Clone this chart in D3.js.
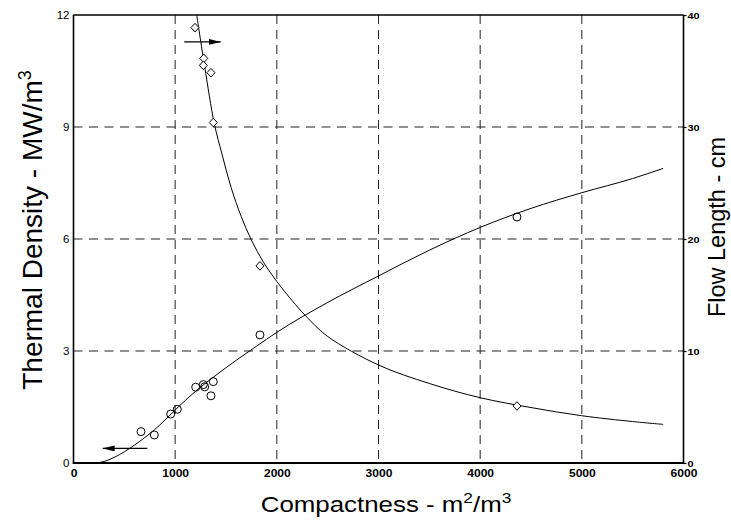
<!DOCTYPE html>
<html>
<head>
<meta charset="utf-8">
<script src="https://cdn.jsdelivr.net/npm/d3@7/dist/d3.min.js"></script>
<style>
  body { margin: 0; background: #fff; }
  text { font-family: "Liberation Sans", Arial, sans-serif; fill: #000; }
</style>
</head>
<body>
<svg class="chart"></svg>
<script>
// measured points
let circleX = [664, 795, 956, 1021, 1202, 1277, 1290, 1352, 1375, 1834, 4362]
let circleY = [0.84, 0.75, 1.31, 1.44, 2.03, 2.10, 2.04, 1.80, 2.18, 3.43, 6.59]

let diamondX = [1195, 1281, 1277, 1352, 1375, 1834, 4362]
let diamondY = [38.87, 36.13, 35.5, 34.85, 30.4, 17.6, 5.09]

// fitted curves
let thermalFitX = [0, 200, 300, 400, 500, 600, 700, 800, 900, 1000, 1200, 1400, 1600, 1800, 2000, 2500, 3000, 3500, 4000, 4500, 5000, 5500, 5800]
let thermalFitY = [0, 0, 0.04, 0.15, 0.3, 0.48, 0.68, 0.9, 1.15, 1.42, 1.92, 2.35, 2.75, 3.13, 3.5, 4.3, 5.01, 5.70, 6.31, 6.82, 7.24, 7.62, 7.89]

let flowFitX = [1212, 1290, 1385, 1460, 1550, 1650, 1750, 1870, 2000, 2150, 2277, 2500, 3000, 3500, 4000, 4500, 5000, 5500, 5800]
let flowFitY = [40, 35.4, 30.3, 27.6, 24.6, 22.0, 19.9, 17.9, 16.2, 14.5, 13.2, 11.3, 8.75, 7.1, 5.83, 4.95, 4.22, 3.7, 3.45]

let xTicks = [0, 1000, 2000, 3000, 4000, 5000, 6000]
let leftTicks = [0, 3, 6, 9, 12]
let rightTicks = [0, 10, 20, 30, 40]

// arrows (data coords): thermal -> left axis, flow -> right axis
let arrowLeft = [[726, 0.39], [287, 0.39]]
let arrowRight = [[1089, 37.6], [1448, 37.6]]

//basic graph info
let svg_width = 731;
let svg_height = 520;
let margin_left = 73.5;
let margin_top = 15;
let chart_width = 610;
let chart_height = 448;
let stretch = 1.15;

let svg = d3.select('.chart')
  .attr('width', svg_width)
  .attr('height', svg_height)

let scaleX = d3.scaleLinear().domain([0, 6000]).range([0, chart_width]);
let scaleY = d3.scaleLinear().domain([0, 12]).range([chart_height, 0]);
let scaleY2 = d3.scaleLinear().domain([0, 40]).range([chart_height, 0]);

let defs = svg.append('defs');
defs.append('marker')
  .attr('id', 'head')
  .attr('markerUnits', 'userSpaceOnUse')
  .attr('markerWidth', 12)
  .attr('markerHeight', 6)
  .attr('refX', 12)
  .attr('refY', 3)
  .attr('orient', 'auto')
  .append('path')
  .attr('d', 'M0,0 L12,3 L0,6 Z')
  .attr('fill', '#000');

let g = svg.append('g')
  .attr('transform', translate(margin_left, margin_top));

// grid
g.selectAll('.vgrid')
  .data(xTicks.slice(1, -1))
  .enter()
  .append('line')
  .attr('class', 'vgrid')
  .attr('x1', d => scaleX(d))
  .attr('x2', d => scaleX(d))
  .attr('y1', 0)
  .attr('y2', chart_height)
  .attr('stroke', '#222')
  .attr('stroke-width', 1)
  .attr('stroke-dasharray', '9,6');

g.selectAll('.hgrid')
  .data(leftTicks.slice(1, -1))
  .enter()
  .append('line')
  .attr('class', 'hgrid')
  .attr('x1', 0)
  .attr('x2', chart_width)
  .attr('y1', d => scaleY(d))
  .attr('y2', d => scaleY(d))
  .attr('stroke', '#222')
  .attr('stroke-width', 1)
  .attr('stroke-dasharray', '9,6.5');

// axes
let axisX = d3.axisBottom(scaleX).tickValues(xTicks).tickFormat(d3.format('d')).tickSize(0).tickPadding(7);
let axisY = d3.axisLeft(scaleY).tickValues(leftTicks).tickFormat(d3.format('d')).tickSize(0).tickPadding(4);
let axisY2 = d3.axisRight(scaleY2).tickValues(rightTicks).tickFormat(d3.format('d')).tickSize(3).tickPadding(1);

g.append('g')
  .attr('transform', translate(0, chart_height))
  .attr('class', 'x-axis')
  .call(axisX)
  .call(a => a.select('.domain').remove())
  .selectAll('text')
  .attr('font-size', 10.5)
  .attr('font-weight', 'bold')
  .attr('font-family', '"Liberation Sans", Arial, sans-serif')
  .attr('transform', 'scale(' + stretch + ',1)');

g.append('g')
  .attr('class', 'y-axis')
  .call(axisY)
  .call(a => a.select('.domain').remove())
  .selectAll('text')
  .attr('font-size', 10)
  .attr('font-family', '"Liberation Sans", Arial, sans-serif')
  .attr('x', -4 / stretch)
  .attr('transform', 'scale(' + stretch + ',1)');

let right = g.append('g')
  .attr('transform', translate(chart_width, 0))
  .attr('class', 'y-axis-2')
  .call(axisY2);
right.select('.domain').remove();
right.selectAll('.tick line').attr('stroke', '#000').attr('stroke-width', 1.2);
right.selectAll('text')
  .attr('font-size', 9.5)
  .attr('font-weight', 'bold')
  .attr('font-family', '"Liberation Sans", Arial, sans-serif')
  .attr('x', 4 / stretch)
  .attr('transform', 'scale(' + stretch + ',1)');

// frame
g.append('line').attr('x1', 0).attr('x2', chart_width).attr('y1', 0).attr('y2', 0)
  .attr('stroke', '#000').attr('stroke-width', 1.5);
g.append('line').attr('x1', 0).attr('x2', 0).attr('y1', 0).attr('y2', chart_height)
  .attr('stroke', '#000').attr('stroke-width', 1.6);
g.append('line').attr('x1', chart_width).attr('x2', chart_width).attr('y1', 0).attr('y2', chart_height)
  .attr('stroke', '#000').attr('stroke-width', 1.6);
g.append('line').attr('x1', -0.8).attr('x2', chart_width + 0.8).attr('y1', chart_height).attr('y2', chart_height)
  .attr('stroke', '#000').attr('stroke-width', 2);

// curves
let thermalLine = d3.line()
  .x(d => scaleX(d[0]))
  .y(d => scaleY(d[1]))
  .curve(d3.curveMonotoneX);

let flowLine = d3.line()
  .x(d => scaleX(d[0]))
  .y(d => scaleY2(d[1]))
  .curve(d3.curveCatmullRom.alpha(0.5));

g.append('path')
  .datum(d3.zip(thermalFitX, thermalFitY))
  .attr('d', thermalLine)
  .attr('fill', 'none')
  .attr('stroke', '#000')
  .attr('stroke-width', 1);

g.append('path')
  .datum(d3.zip(flowFitX, flowFitY))
  .attr('d', flowLine)
  .attr('fill', 'none')
  .attr('stroke', '#000')
  .attr('stroke-width', 1);

// markers
g.selectAll('.circle')
  .data(d3.zip(circleX, circleY))
  .enter()
  .append('circle')
  .attr('class', 'circle')
  .attr('cx', d => scaleX(d[0]))
  .attr('cy', d => scaleY(d[1]))
  .attr('r', 4)
  .attr('fill', 'none')
  .attr('stroke', '#000')
  .attr('stroke-width', 1);

g.selectAll('.diamond')
  .data(d3.zip(diamondX, diamondY))
  .enter()
  .append('path')
  .attr('class', 'diamond')
  .attr('transform', d => translate(scaleX(d[0]), scaleY2(d[1])))
  .attr('d', 'M0,-4.3 L4,0 L0,4.3 L-4,0 Z')
  .attr('fill', '#fff')
  .attr('stroke', '#000')
  .attr('stroke-width', 1);

// arrows
g.append('line')
  .attr('x1', scaleX(arrowLeft[0][0])).attr('y1', scaleY(arrowLeft[0][1]))
  .attr('x2', scaleX(arrowLeft[1][0])).attr('y2', scaleY(arrowLeft[1][1]))
  .attr('stroke', '#000').attr('stroke-width', 1.2)
  .attr('marker-end', 'url(#head)');

g.append('line')
  .attr('x1', scaleX(arrowRight[0][0])).attr('y1', scaleY2(arrowRight[0][1]))
  .attr('x2', scaleX(arrowRight[1][0])).attr('y2', scaleY2(arrowRight[1][1]))
  .attr('stroke', '#000').attr('stroke-width', 1.2)
  .attr('marker-end', 'url(#head)');

// titles
let xTitle = svg.append('text')
  .attr('transform', translate(386, 512) + ' scale(' + stretch + ',1)')
  .attr('text-anchor', 'middle')
  .attr('font-size', 22.5);
xTitle.append('tspan').text('Compactness - m');
xTitle.append('tspan').text('2').attr('font-size', 15).attr('dy', -9);
xTitle.append('tspan').text('/m').attr('dy', 9);
xTitle.append('tspan').text('3').attr('font-size', 15).attr('dy', -9);

let yTitle = svg.append('text')
  .attr('transform', translate(42, 230) + ' rotate(-90)')
  .attr('text-anchor', 'middle')
  .attr('font-size', 28);
yTitle.append('tspan').text('Thermal Density - MW/m');
yTitle.append('tspan').text('3').attr('font-size', 18).attr('dy', -11);

svg.append('text')
  .attr('transform', translate(725, 227) + ' rotate(-90) scale(1,1.05)')
  .attr('text-anchor', 'middle')
  .attr('font-size', 23.5)
  .text('Flow Length - cm');

function translate(x, y) {
  return 'translate(' + x + ',' + y + ')';
}
</script>
</body>
</html>
